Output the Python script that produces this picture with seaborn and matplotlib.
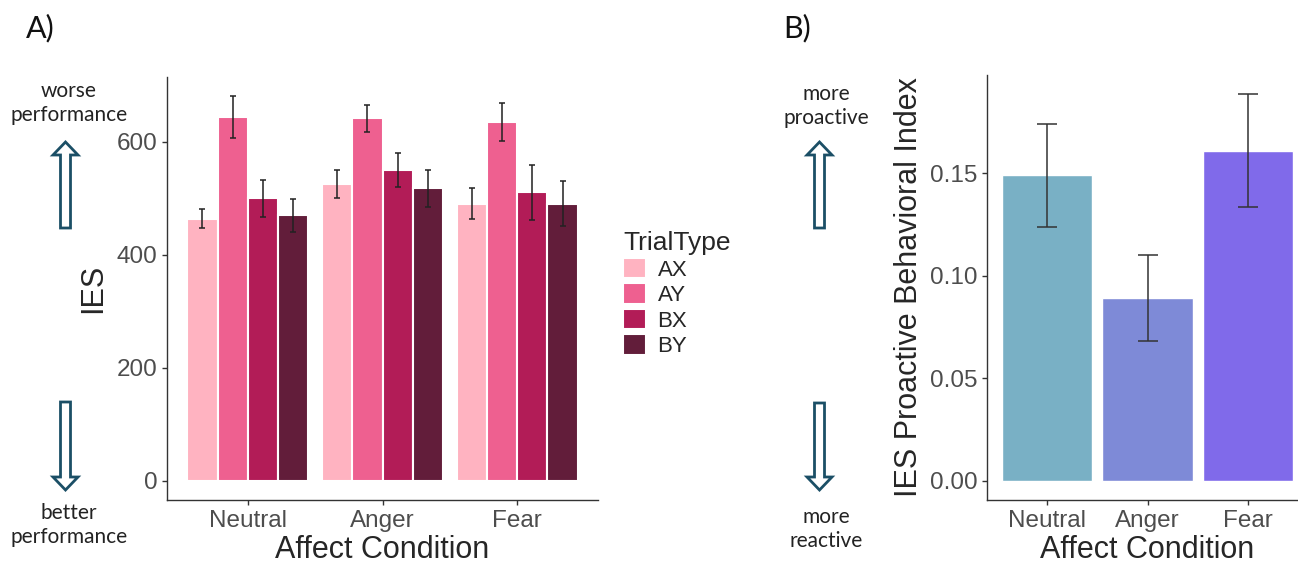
import numpy as np
import pandas as pd
import seaborn as sns
from matplotlib import pyplot as plt
from matplotlib.patches import FancyArrow

conditions = ["Neutral", "Anger", "Fear"]
trial_types = ["AX", "AY", "BX", "BY"]

# IES means / standard errors per trial type, ordered Neutral, Anger, Fear
ies_ax = [464, 526, 491]
ies_ay = [644, 642, 635]
ies_bx = [500, 550, 511]
ies_by = [470, 518, 491]
se_ax = [17, 25, 27]
se_ay = [37, 24, 34]
se_bx = [33, 30, 49]
se_by = [29, 33, 40]

# proactive behavioral index
pbi = [0.149, 0.089, 0.161]
pbi_se = [0.025, 0.021, 0.0275]

trial_colors = ["#FFB3C1", "#EE6090", "#B21C57", "#621D3A"]
cond_colors = ["#79B0C5", "#7E8AD7", "#806AEA"]
arrow_color = "#1B4F66"

sns.set_style("white")
plt.rcParams["font.family"] = ["Liberation Sans", "DejaVu Sans"]

df = pd.DataFrame({
    "Condition": conditions * 4,
    "TrialType": np.repeat(trial_types, 3),
    "IES": ies_ax + ies_ay + ies_bx + ies_by,
})
errs = [se_ax, se_ay, se_bx, se_by]

W, H = 1298, 565
fig = plt.figure(figsize=(W / 100, H / 100), dpi=100)


def px_rect(x0, y0, x1, y1):
    return [x0 / W, 1 - y1 / H, (x1 - x0) / W, (y1 - y0) / H]


def style_axes(ax):
    sns.despine(ax=ax)
    for s in ["left", "bottom"]:
        ax.spines[s].set_color("#333333")
        ax.spines[s].set_linewidth(1.0)
    ax.tick_params(axis="both", colors="#333333", length=3.5, width=1.0,
                   labelsize=17.5, labelcolor="#4D4D4D", left=True, bottom=True)
    ax.set_xlim(-0.6, 2.6)


# ---- panel A
axA = fig.add_axes(px_rect(167, 77, 598, 500))
sns.barplot(data=df, x="Condition", y="IES", hue="TrialType", order=conditions,
            hue_order=trial_types, palette=trial_colors, width=0.9, saturation=1,
            errorbar=None, edgecolor="white", linewidth=1.5, ax=axA)
for cont, e in zip(axA.containers, errs):
    xs = [b.get_x() + b.get_width() / 2 for b in cont]
    ys = [b.get_height() for b in cont]
    axA.errorbar(xs, ys, yerr=e, fmt="none", ecolor="#222222", elinewidth=1.3,
                 capsize=2.5, capthick=1.3, alpha=0.85)
top = max(max(np.array(m) + np.array(s)) for m, s in
          zip([ies_ax, ies_ay, ies_bx, ies_by], errs))
axA.set_ylim(-0.05 * top, top * 1.05)
axA.set_yticks([0, 200, 400, 600])
style_axes(axA)
axA.set_xlabel("Affect Condition", fontsize=22, labelpad=2)
axA.set_ylabel("IES", fontsize=22, labelpad=6)

handles, labels = axA.get_legend_handles_labels()
axA.legend(handles, labels, title="TrialType", loc="upper left",
           bbox_to_anchor=(612 / W, 1 - 220 / H), bbox_transform=fig.transFigure,
           frameon=False, fontsize=16, title_fontsize=19, borderpad=0,
           handlelength=1.05, handleheight=1.05, labelspacing=0.12,
           handletextpad=0.5, alignment="left")

# ---- panel B
axB = fig.add_axes(px_rect(987, 75, 1308, 500))
sns.barplot(x=conditions, y=pbi, hue=conditions, palette=cond_colors, saturation=1,
            width=0.9, errorbar=None, legend=False, ax=axB)
xs = [b.get_x() + b.get_width() / 2 for b in axB.patches]
axB.errorbar(xs, pbi, yerr=pbi_se, fmt="none", ecolor="#333333",
             elinewidth=1.1, capsize=7, capthick=1.1)
topB = max(np.array(pbi) + np.array(pbi_se))
axB.set_ylim(-0.05 * topB, topB * 1.05)
axB.set_yticks([0, 0.05, 0.10, 0.15])
axB.set_yticklabels(["0.00", "0.05", "0.10", "0.15"])
style_axes(axB)
axB.set_xlabel("Affect Condition", fontsize=22, labelpad=2)
axB.set_ylabel("IES Proactive Behavioral Index", fontsize=22, labelpad=4)

# ---- annotations in pixel space
ov = fig.add_axes([0, 0, 1, 1])
ov.set_xlim(0, W)
ov.set_ylim(H, 0)
ov.axis("off")
ann = dict(family=["Lato", "DejaVu Sans"], ha="center", va="center",
           fontsize=15, color="#222222", linespacing=1.3)
panel = dict(family=["Lato", "DejaVu Sans"], ha="center", va="center",
             fontsize=22, color="#111111")
ov.text(40, 28, "A)", **panel)
ov.text(797, 28, "B)", **panel)
ov.text(69, 103, "worse\nperformance", **ann)
ov.text(69, 525, "better\nperformance", **ann)
ov.text(826, 106, "more\nproactive", **ann)
ov.text(826, 529, "more\nreactive", **ann)


def hollow_arrow(x, y0, y1):
    ov.add_patch(FancyArrow(x, y0, 0, y1 - y0, width=10, head_width=25,
                            head_length=13, length_includes_head=True,
                            fc="white", ec=arrow_color, lw=2.0))


hollow_arrow(65.5, 228, 142)
hollow_arrow(65.5, 402, 490)
hollow_arrow(819.5, 228, 142)
hollow_arrow(819.5, 403, 490)

fig.savefig("out.png", dpi=100)
